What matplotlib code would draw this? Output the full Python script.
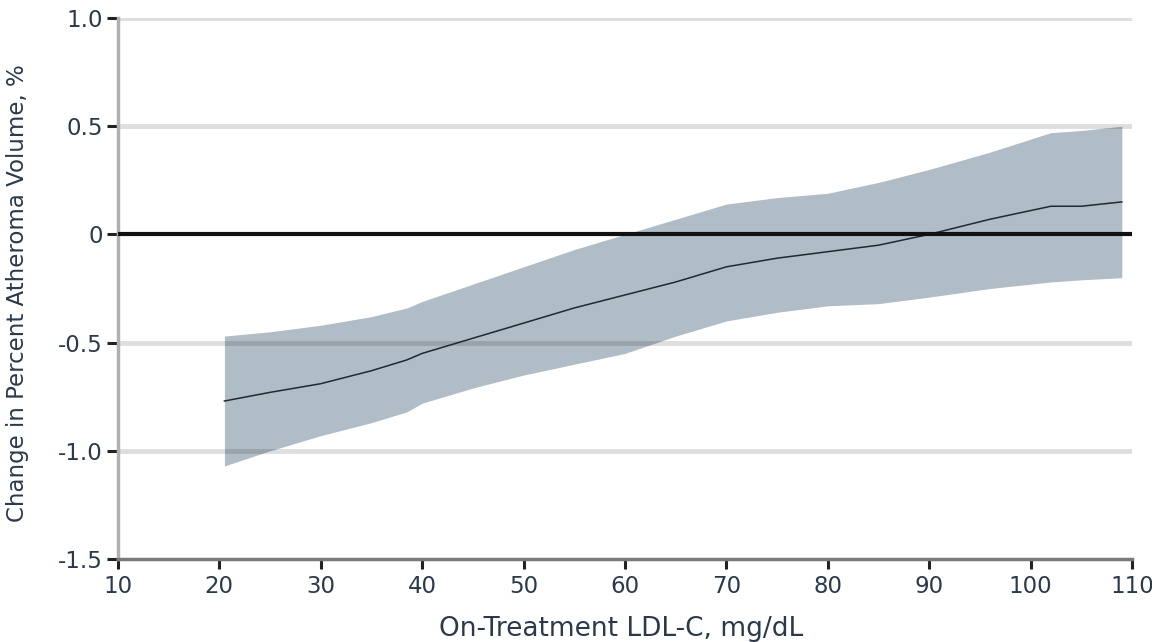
#!/usr/bin/env python3
"""
Change in percent atheroma volume vs on-treatment LDL-C
"""

import numpy as np
import matplotlib
matplotlib.use('Agg')
import matplotlib.pyplot as plt

# values
ldl = [20.5, 25, 30, 35, 38.5, 40, 45, 50, 55, 60, 65, 70, 75, 80, 85, 90, 96, 102, 105, 109]
mean_change = [-0.77, -0.73, -0.69, -0.63, -0.58, -0.55, -0.48, -0.41, -0.34, -0.28,
               -0.22, -0.15, -0.11, -0.08, -0.05, 0.0, 0.07, 0.13, 0.13, 0.15]
upper_ci = [-0.47, -0.45, -0.42, -0.38, -0.34, -0.31, -0.23, -0.15, -0.07, 0.0,
            0.07, 0.14, 0.17, 0.19, 0.24, 0.30, 0.38, 0.47, 0.48, 0.50]
lower_ci = [-1.07, -1.00, -0.93, -0.87, -0.82, -0.78, -0.71, -0.65, -0.60, -0.55,
            -0.47, -0.40, -0.36, -0.33, -0.32, -0.29, -0.25, -0.22, -0.21, -0.20]

yticks = [1.0, 0.5, 0, -0.5, -1.0, -1.5]
ytick_labels = ['1.0', '0.5', '0', '-0.5', '-1.0', '-1.5']
xticks = [10, 20, 30, 40, 50, 60, 70, 80, 90, 100, 110]

plt.rcParams['font.family'] = ['DejaVu Sans']
text_color = '#2a3a4a'

fig = plt.figure(figsize=(11.52, 6.42), dpi=100)
ax = fig.add_axes([0.1024, 0.1293, 0.8802, 0.8427])

ax.fill_between(ldl, lower_ci, upper_ci, color='#b0bcc6', linewidth=0, zorder=1)
ax.plot(ldl, mean_change, color='#1f2a33', linewidth=1.1, zorder=3)

# gridlines drawn over the band so they darken it slightly
for y in [1.0, 0.5, -0.5, -1.0]:
    ax.axhline(y, color='black', alpha=0.13, linewidth=3.5, zorder=2)
ax.axhline(0, color='#111111', linewidth=3, zorder=4)

ax.set_xlim(10, 110)
ax.set_ylim(-1.5, 1.0)
ax.set_xticks(xticks)
ax.set_xticklabels([str(x) for x in xticks])
ax.set_yticks(yticks)
ax.set_yticklabels(ytick_labels)

for side in ['top', 'right']:
    ax.spines[side].set_visible(False)
ax.spines['left'].set_color('#b0b0b0')
ax.spines['left'].set_linewidth(2.5)
ax.spines['bottom'].set_color('#7a7a7a')
ax.spines['bottom'].set_linewidth(2.5)

ax.tick_params(axis='y', length=8, width=2.2, color='#222222', labelsize=16.5,
               labelcolor=text_color, pad=3)
ax.tick_params(axis='x', length=7.5, width=2.2, color='#222222', labelsize=16.5,
               labelcolor=text_color, pad=4)

ax.set_xlabel('On-Treatment LDL-C, mg/dL', fontsize=19, color=text_color)
ax.set_ylabel('Change in Percent Atheroma Volume, %', fontsize=16.5, color=text_color)
ax.xaxis.label.set_va('center')
ax.yaxis.label.set_va('center')
ax.xaxis.set_label_coords(0.496, -0.129)
ax.yaxis.set_label_coords(-0.0986, 0.4917)

fig.savefig('out.png', dpi=100)
